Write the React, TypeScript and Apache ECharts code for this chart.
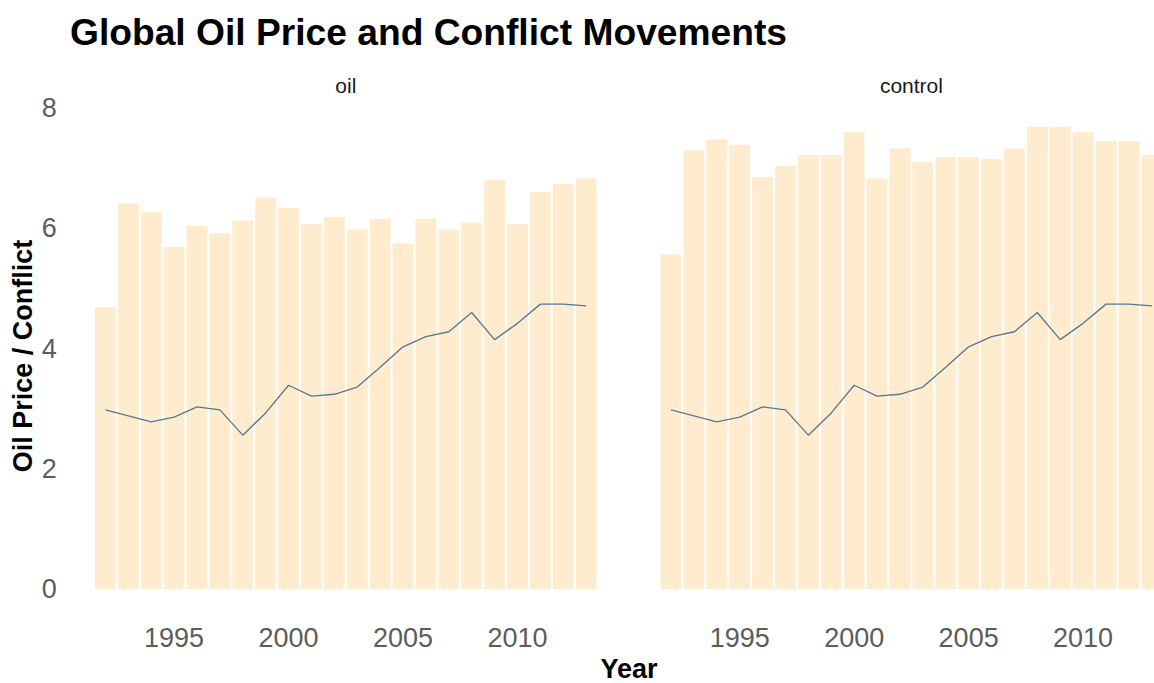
import React, { useEffect, useRef } from "react";
import * as echarts from "echarts";

const years = [1992, 1993, 1994, 1995, 1996, 1997, 1998, 1999, 2000, 2001, 2002, 2003, 2004, 2005, 2006, 2007, 2008, 2009, 2010, 2011, 2012, 2013];
const oilConflict = [4.69, 6.42, 6.27, 5.69, 6.04, 5.92, 6.13, 6.51, 6.34, 6.07, 6.19, 5.98, 6.16, 5.75, 6.16, 5.98, 6.10, 6.81, 6.07, 6.60, 6.74, 6.83];
const controlConflict = [5.57, 7.30, 7.48, 7.39, 6.86, 7.04, 7.22, 7.22, 7.60, 6.83, 7.33, 7.10, 7.19, 7.19, 7.15, 7.33, 7.69, 7.69, 7.60, 7.45, 7.45, 7.22];
const oilPrice = [2.98, 2.88, 2.78, 2.86, 3.03, 2.98, 2.56, 2.93, 3.39, 3.21, 3.24, 3.36, 3.69, 4.03, 4.20, 4.28, 4.60, 4.15, 4.42, 4.74, 4.74, 4.71];
const panelNames = ["oil", "control"];
const yearTicks = [1995, 2000, 2005, 2010];
const titleText = "Global Oil Price and Conflict Movements";
const xTitle = "Year";
const yTitle = "Oil Price / Conflict";

const FONT = "'Liberation Sans', Arial, sans-serif";
const BAR_COLOR = "#FFEBCD";
const LINE_COLOR = "#557a92";
const TICK_COLOR = "#5c5c5c";

export default function App() {
  const ref = useRef<HTMLDivElement>(null);
  useEffect(() => {
    const chart = echarts.init(ref.current!, null, { renderer: "svg" });
    const panels = [oilConflict, controlConflict];
    const lefts = [68.8, 634.4];
    const gridW = 554;
    const top = 108.2;
    const height = 480.8;

    const xAxes = panels.map((_, i) => ({
      type: "value",
      gridIndex: i,
      min: 1990.4,
      max: 2014.6,
      axisLine: { show: false },
      axisTick: { show: false },
      splitLine: { show: false },
      axisLabel: {
        customValues: yearTicks,
        formatter: (v: number) => String(v),
        fontSize: 27,
        color: TICK_COLOR,
        fontFamily: FONT,
        margin: 35,
      },
    }));
    const yAxes = panels.map((_, i) => ({
      type: "value",
      gridIndex: i,
      min: 0,
      max: 8,
      interval: 2,
      axisLine: { show: false },
      axisTick: { show: false },
      splitLine: { show: false },
      axisLabel: {
        show: i === 0,
        fontSize: 27,
        color: TICK_COLOR,
        fontFamily: FONT,
        margin: 12,
      },
    }));
    const series: any[] = [];
    panels.forEach((vals, i) => {
      series.push({
        type: "bar",
        xAxisIndex: i,
        yAxisIndex: i,
        barWidth: 20.8,
        itemStyle: { color: BAR_COLOR },
        data: years.map((y, k) => [y, vals[k]]),
      });
      series.push({
        type: "line",
        xAxisIndex: i,
        yAxisIndex: i,
        symbol: "none",
        showSymbol: false,
        lineStyle: { color: LINE_COLOR, width: 1.35 },
        data: years.map((y, k) => [y, oilPrice[k]]),
      });
    });

    chart.setOption({
      animation: false,
      backgroundColor: "#ffffff",
      grid: lefts.map((l) => ({ left: l, top, width: gridW, height })),
      xAxis: xAxes,
      yAxis: yAxes,
      series,
      graphic: [
        {
          type: "text",
          x: 70,
          y: 32,
          style: {
            text: titleText,
            font: `bold 37.2px ${FONT}`,
            fill: "#000000",
            align: "left",
            verticalAlign: "middle",
          },
        },
        ...panelNames.map((n, i) => ({
          type: "text",
          x: lefts[i] + gridW / 2,
          y: 85,
          style: {
            text: n,
            font: `21px ${FONT}`,
            fill: "#1a1a1a",
            align: "center",
            verticalAlign: "middle",
          },
        })),
        {
          type: "text",
          x: 629,
          y: 668.5,
          style: {
            text: xTitle,
            font: `bold 27px ${FONT}`,
            fill: "#000000",
            align: "center",
            verticalAlign: "middle",
          },
        },
        {
          type: "text",
          x: 23,
          y: 356,
          rotation: Math.PI / 2,
          style: {
            text: yTitle,
            font: `bold 27px ${FONT}`,
            fill: "#000000",
            align: "center",
            verticalAlign: "middle",
          },
        },
      ],
    });
    return () => chart.dispose();
  }, []);
  return (
    <div style={{ position: "fixed", left: 0, top: 0, width: 1154, height: 683, overflow: "hidden", background: "#fff" }}>
      <div ref={ref} style={{ width: 1200, height: 683 }} />
    </div>
  );
}
